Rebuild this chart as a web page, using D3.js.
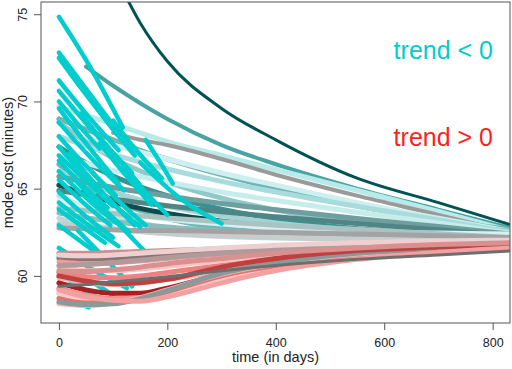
<!DOCTYPE html>
<html>
<head>
<meta charset="utf-8">
<script src="https://d3js.org/d3.v7.min.js"></script>
<style>
  body { margin: 0; background: #fff; }
  text { font-family: "Liberation Sans", Arial, sans-serif; }
</style>
</head>
<body>
<svg width="512" height="369" id="mainsvg"></svg>
<script>
// sample days for the long curves
const days = [0, 50, 100, 150, 200, 300, 400, 550, 700, 832];

// long curves with a falling trend (values in minutes at each sample day)
const fallCurves = [
  [null, 72.0, 70.9, 69.9, 69.0, 67.5, 66.4, 65.0, 63.8, 62.75],
  [69.7, 69.2, 68.7, 68.2, 67.7, 66.9, 66.1, 64.9, 63.7, 62.6],
  [null, null, 68.2, 67.8, 67.5, 66.7, 65.8, 64.6, 63.5, 62.5],
  [69.0, 68.4, 67.8, 67.2, 66.7, 65.8, 65.0, 64.0, 63.2, 62.65],
  [null, 67.9, 67.5, 67.1, 66.7, 65.9, 65.2, 64.2, 63.3, 62.55],
  [68.8, 67.68, 66.75, 66.01, 65.39, 64.46, 63.78, 63.1, 62.79, 62.6],
  [68.0, 67.45, 66.96, 66.52, 66.13, 65.42, 64.81, 63.99, 63.22, 62.5],
  [67.4, 66.48, 65.72, 65.11, 64.6, 63.83, 63.27, 62.71, 62.45, 62.3],
  [66.9, 66.46, 66.05, 65.7, 65.39, 64.81, 64.32, 63.65, 63.03, 62.45],
  [66.4, 65.22, 64.34, 63.75, 63.29, 62.75, 62.47, 62.28, 62.23, 62.2],
  [66.0, 65.34, 64.8, 64.36, 63.99, 63.45, 63.04, 62.64, 62.46, 62.35],
  [65.7, 65.37, 65.07, 64.81, 64.58, 64.15, 63.79, 63.29, 62.83, 62.4],
  [65.2, 64.67, 64.23, 63.87, 63.58, 63.14, 62.81, 62.49, 62.34, 62.25],
  [64.9, 64.64, 64.41, 64.2, 64.02, 63.68, 63.39, 63.0, 62.64, 62.3],
  [64.6, 63.9, 63.38, 63.03, 62.75, 62.43, 62.26, 62.15, 62.12, 62.1],
  [64.3, 63.96, 63.67, 63.45, 63.26, 62.97, 62.76, 62.55, 62.46, 62.4],
  [63.9, 63.73, 63.58, 63.44, 63.32, 63.1, 62.91, 62.66, 62.42, 62.2],
  [63.6, 63.34, 63.12, 62.95, 62.8, 62.59, 62.43, 62.27, 62.19, 62.15],
  [63.3, 62.96, 62.71, 62.54, 62.41, 62.26, 62.18, 62.12, 62.11, 62.1],
  [63.0, 62.82, 62.67, 62.55, 62.45, 62.3, 62.19, 62.08, 62.03, 62.0],
  [62.75, 62.7, 62.65, 62.6, 62.6, 62.55, 62.5, 62.4, 62.3, 62.2]
];
const fallColors = [
  '#4aa3a3', '#b8eaea', '#9a9a9a', '#6fb3b3', '#cdefef', '#8fc9c9', '#a8dcdc',
  '#3a9191', '#c6ecec', '#6ab8b8', '#a3d3d3', '#6e9e9e', '#0e4c4c', '#4f8585',
  '#c4e2e2', '#d9f0f0', '#aac2c2', '#8cbcbc', '#bcd9d9', '#c8cccc', '#a3a3a3'
];

// the highest falling curve
const topCurve = [null, null, 77.5, 74.5, 72.3, 69.6, 67.8, 65.6, 64.2, 62.94];

// short observed stretches (day, minutes)
const obsSegments = [
  [[0, 74.85], [58, 71.95], [118, 68.5]],
  [[0, 72.8], [60, 70.3], [130, 67.4]],
  [[0, 72.5], [45, 70.6], [100, 68.4]],
  [[0, 71.2], [50, 69.3], [110, 67.2]],
  [[0, 70.6], [60, 68.4], [135, 65.9]],
  [[0, 70.0], [35, 68.7], [75, 67.3]],
  [[0, 69.6], [50, 67.6], [110, 65.3]],
  [[0, 68.8], [55, 66.9], [120, 64.9]],
  [[0, 68.0], [50, 66.3], [105, 64.6]],
  [[0, 67.4], [70, 65.0], [150, 62.8]],
  [[0, 66.9], [45, 65.6], [100, 64.0]],
  [[0, 66.6], [40, 65.3], [90, 63.9]],
  [[0, 66.0], [60, 64.2], [125, 62.6]],
  [[0, 65.5], [45, 64.2], [95, 62.9]],
  [[0, 64.8], [50, 63.4], [100, 62.2]],
  [[0, 64.2], [55, 62.9], [110, 61.7]],
  [[0, 63.8], [40, 62.9], [85, 61.9]],
  [[0, 62.9], [35, 62.1], [70, 61.3]],
  [[40, 69.3], [90, 67.4], [150, 65.2]],
  [[75, 67.6], [120, 65.9], [170, 64.1]],
  [[160, 67.8], [185, 66.6], [210, 65.3]],
  [[100, 68.9], [140, 67.3], [190, 65.6]],
  [[55, 70.3], [95, 68.6], [140, 66.9]],
  [[20, 67.0], [80, 64.8], [140, 62.9]],
  [[30, 65.5], [80, 63.9], [130, 62.5]],
  [[60, 66.0], [110, 64.3], [160, 62.9]],
  [[120, 66.2], [160, 64.8], [200, 63.5]],
  [[150, 66.5], [230, 64.3], [300, 63.0]],
  [[0, 61.6], [60, 60.4], [125, 59.3]],
  [[0, 61.1], [50, 59.9], [100, 58.9]],
  [[0, 60.2], [40, 59.3], [80, 58.6]],
  [[0, 59.0], [30, 58.5], [55, 58.2]],
  [[35, 62.6], [85, 61.0], [135, 59.4]],
  [[100, 63.3], [140, 62.0], [175, 60.9]]
];

// long curves with a rising trend
const riseCurves = [
  [61.3, 61.3, 61.35, 61.4, 61.45, 61.55, 61.65, 61.8, 61.9, 62.0],
  [61.0, 60.95, 61.0, 61.1, 61.2, 61.4, 61.55, 61.75, 61.9, 62.0],
  [60.8, 60.7, 60.75, 60.85, 61.0, 61.25, 61.45, 61.7, 61.85, 61.95],
  [60.5, 60.3, 60.3, 60.4, 60.55, 60.9, 61.2, 61.5, 61.7, 61.85],
  [60.2, 59.95, 59.9, 60.0, 60.2, 60.6, 60.95, 61.35, 61.6, 61.8],
  [59.9, 59.6, 59.5, 59.6, 59.8, 60.3, 60.75, 61.25, 61.55, 61.75],
  [59.6, 59.2, 59.0, 59.0, 59.3, 60.1, 60.7, 61.2, 61.5, 61.7],
  [59.3, 58.9, 58.7, 58.75, 59.05, 59.9, 60.5, 61.1, 61.45, 61.65],
  [59.0, 58.6, 58.5, 58.6, 59.0, 59.9, 60.55, 61.1, 61.45, 61.65],
  [58.7, 58.45, 58.5, 58.7, 59.1, 60.0, 60.6, 61.15, 61.45, 61.65],
  [58.4, 58.3, 58.45, 58.75, 59.2, 60.1, 60.7, 61.25, 61.5, 61.7],
  [58.5, 58.35, 58.4, 58.7, 59.15, 60.15, 60.75, 61.3, 61.55, 61.75],
  [60.6, 60.65, 60.75, 60.9, 61.05, 61.3, 61.5, 61.7, 61.85, 61.95],
  [60.0, 59.7, 59.55, 59.6, 59.8, 60.5, 61.0, 61.45, 61.65, 61.8],
  [61.2, 61.15, 61.2, 61.3, 61.4, 61.6, 61.75, 61.9, 62.0, 62.05],
  [59.2, 58.8, 58.6, 58.55, 58.8, 59.6, 60.3, 60.95, 61.35, 61.6],
  [60.3, 60.25, 60.35, 60.5, 60.7, 61.0, 61.3, 61.6, 61.8, 61.9],
  [59.4, 59.5, 59.65, 59.8, 59.95, 60.3, 60.6, 60.95, 61.2, 61.43]
];
const riseColors = [
  '#c89090', '#8c7474', '#f49a9a', '#ffc0c0', '#ec8282', '#f7b0b0',
  '#a82020', '#f29090', '#ffc8c8', '#e47070', '#f7b8b8', '#8a9a9a',
  '#b09a9a', '#c04040', '#efd0d0', '#f4a0a0', '#d99090', '#6e6e6e'
];

const xTicks = [0, 200, 400, 600, 800];
const yTicks = [60, 65, 70, 75];

const svg = d3.select('#mainsvg');
const margin = {top: 2, right: 2, bottom: 46, left: 41};
const width = +svg.attr('width');
const height = +svg.attr('height');

const xScale = d3.scaleLinear().domain([-33, 832]).range([margin.left, width - margin.right]);
const yScale = d3.scaleLinear().domain([57.3, 75.7]).range([height - margin.bottom, margin.top]);

svg.append('clipPath').attr('id', 'plotclip')
  .append('rect')
  .attr('x', margin.left).attr('y', margin.top)
  .attr('width', width - margin.left - margin.right)
  .attr('height', height - margin.top - margin.bottom);

const plot = svg.append('g').attr('clip-path', 'url(#plotclip)');

const line = d3.line()
  .x(d => xScale(d[0]))
  .y(d => yScale(d[1]))
  .curve(d3.curveMonotoneX);

const toPoints = vals => days.map((d, i) => [d, vals[i]]).filter(p => p[1] != null);

fallCurves.forEach((c, i) => {
  plot.append('path')
    .attr('d', line(toPoints(c)))
    .attr('fill', 'none')
    .attr('stroke', fallColors[i])
    .attr('stroke-width', i === 0 ? 4 : (i === 2 ? 4 : 5))
    .attr('stroke-linecap', 'round');
});

obsSegments.forEach(s => {
  plot.append('path')
    .attr('d', line(s))
    .attr('fill', 'none')
    .attr('stroke', '#00cdcd')
    .attr('stroke-width', 4.5)
    .attr('stroke-linecap', 'round');
});

riseCurves.forEach((c, i) => {
  plot.append('path')
    .attr('d', line(toPoints(c)))
    .attr('fill', 'none')
    .attr('stroke', riseColors[i])
    .attr('stroke-width', i === riseCurves.length - 1 ? 3 : 5)
    .attr('stroke-linecap', 'round');
});

plot.append('path')
  .attr('d', line(toPoints(topCurve)))
  .attr('fill', 'none')
  .attr('stroke', '#005353')
  .attr('stroke-width', 3);

// box
svg.append('rect')
  .attr('x', margin.left).attr('y', margin.top)
  .attr('width', width - margin.left - margin.right)
  .attr('height', height - margin.top - margin.bottom)
  .attr('fill', 'none')
  .attr('stroke', '#555')
  .attr('stroke-width', 1);

// x axis (R style)
const xAxis = d3.axisBottom(xScale).tickValues(xTicks).tickSize(7).tickPadding(8);
const gx = svg.append('g')
  .attr('transform', `translate(0, ${height - margin.bottom})`)
  .call(xAxis);
gx.select('.domain').remove();
gx.selectAll('line').attr('stroke', '#555');
gx.selectAll('text').attr('font-size', '12.5px').attr('fill', '#222')
  .attr('font-family', '"Liberation Sans", Arial, sans-serif');

// y axis, labels rotated
const yAxis = d3.axisLeft(yScale).tickValues(yTicks).tickSize(7).tickFormat(d3.format('d'));
const gy = svg.append('g')
  .attr('transform', `translate(${margin.left}, 0)`)
  .call(yAxis);
gy.select('.domain').remove();
gy.selectAll('line').attr('stroke', '#555');
gy.selectAll('text')
  .attr('font-size', '12.5px').attr('fill', '#222')
  .attr('font-family', '"Liberation Sans", Arial, sans-serif')
  .attr('x', 0).attr('dy', null)
  .attr('text-anchor', 'middle')
  .attr('transform', 'translate(-14, 0) rotate(-90)');

svg.append('text')
  .text('time (in days)')
  .attr('x', (margin.left + width - margin.right) / 2)
  .attr('y', 362)
  .attr('text-anchor', 'middle')
  .attr('font-size', '14.5px')
  .attr('fill', '#222');

svg.append('text')
  .text('mode cost (minutes)')
  .attr('transform', `translate(13, ${(margin.top + height - margin.bottom) / 2}) rotate(-90)`)
  .attr('text-anchor', 'middle')
  .attr('font-size', '14.5px')
  .attr('fill', '#222');

svg.append('text')
  .text('trend < 0')
  .attr('x', 493).attr('y', 59)
  .attr('text-anchor', 'end')
  .attr('font-size', '25px')
  .attr('fill', '#00cdcd');

svg.append('text')
  .text('trend > 0')
  .attr('x', 493).attr('y', 146)
  .attr('text-anchor', 'end')
  .attr('font-size', '25px')
  .attr('fill', '#ff1f1f');
</script>
</body>
</html>
